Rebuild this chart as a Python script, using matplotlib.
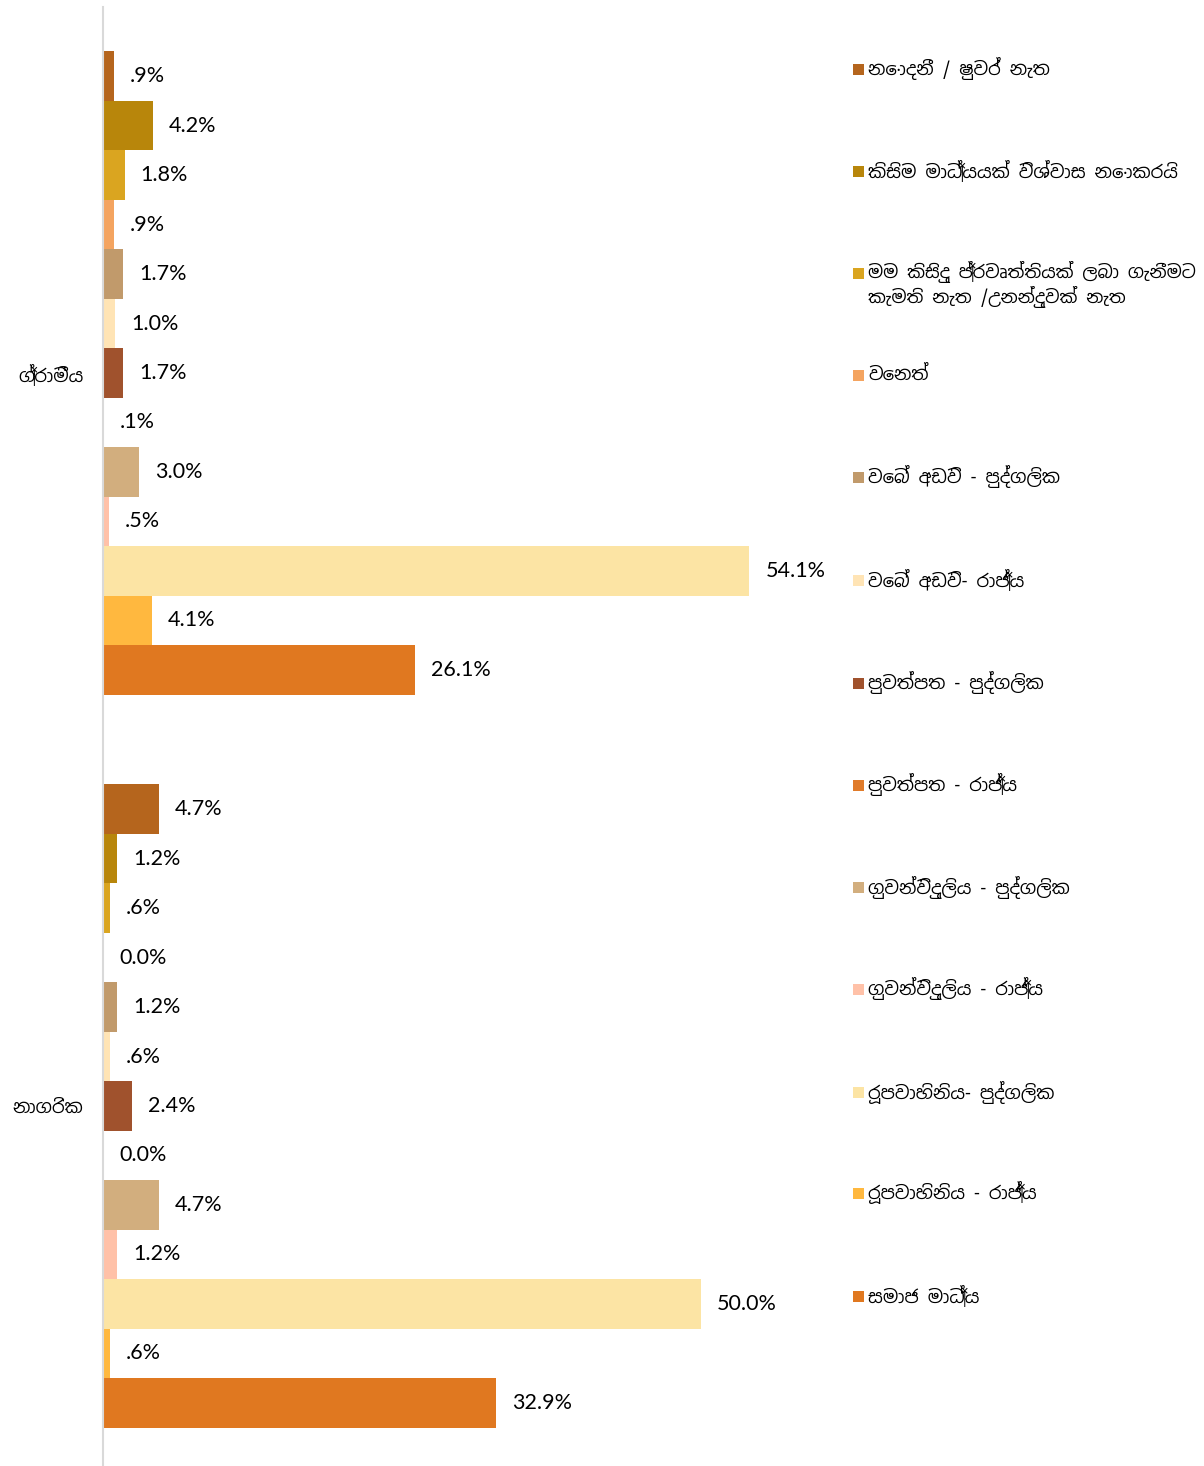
import matplotlib
matplotlib.use("Agg")
import matplotlib.pyplot as plt
from matplotlib import font_manager as fm
from matplotlib.patches import Rectangle

# Sinhala-capable font if one is around, otherwise fall back
sinhala = sorted({f.name for f in fm.fontManager.ttflist
                  if "sinhala" in f.name.lower() or "iskoola" in f.name.lower()})
fams = sinhala + ["Lato", "DejaVu Sans"]
plt.rcParams["font.family"] = fams

groups = ["ග්‍රාමීය", "නාගරික"]

series = [
    "නොදනී / ෂුවර් නැත",
    "කිසිම මාධ්‍යයක් විශ්වාස නොකරයි",
    "මම කිසිදු ප්‍රවෘත්තියක් ලබා ගැනීමට\nකැමති නැත /උනන්දුවක් නැත",
    "වෙනත්",
    "වෙබ් අඩවි - පුද්ගලික",
    "වෙබ් අඩවි- රාජ්‍ය",
    "පුවත්පත - පුද්ගලික",
    "පුවත්පත - රාජ්‍ය",
    "ගුවන්විදුලිය - පුද්ගලික",
    "ගුවන්විදුලිය - රාජ්‍ය",
    "රූපවාහිනිය- පුද්ගලික",
    "රූපවාහිනිය - රාජ්‍ය",
    "සමාජ මාධ්‍ය",
]

colors = ["#B5651D", "#B8860B", "#DAA520", "#F4A460", "#C19A6B", "#FFE4B5",
          "#A0522D", "#E07B2A", "#D2AE7E", "#FFC1A8", "#FCE4A4", "#FFB83F",
          "#E07820"]

rural = [0.9, 4.2, 1.8, 0.9, 1.7, 1.0, 1.7, 0.1, 3.0, 0.5, 54.1, 4.1, 26.1]
urban = [4.7, 1.2, 0.6, 0.0, 1.2, 0.6, 2.4, 0.0, 4.7, 1.2, 50.0, 0.6, 32.9]
rural_lbl = [".9%", "4.2%", "1.8%", ".9%", "1.7%", "1.0%", "1.7%", ".1%",
             "3.0%", ".5%", "54.1%", "4.1%", "26.1%"]
urban_lbl = ["4.7%", "1.2%", ".6%", "0.0%", "1.2%", ".6%", "2.4%", "0.0%",
             "4.7%", "1.2%", "50.0%", ".6%", "32.9%"]

W, H = 1204, 1466
fig = plt.figure(figsize=(W / 100, H / 100), dpi=100)
ax = fig.add_axes([103 / W, -6.5 / H, 717 / W, 1 + 0 / H])

n = len(series)
h = 0.0675
for gi, (vals, lbls) in enumerate([(rural, rural_lbl), (urban, urban_lbl)]):
    for i in range(n):
        y = gi + (i - (n - 1) / 2) * h
        ax.barh(y, vals[i], height=h, color=colors[i], linewidth=0)
        ax.annotate(lbls[i], (vals[i], y), xytext=(11.5, 0),
                    textcoords="offset points", va="center", ha="left",
                    fontsize=15.5, family=["Lato", "DejaVu Sans"])

ax.set_xlim(0, 60)
ax.set_ylim(1.5, -0.5)
ax.set_yticks([0, 1])
ax.set_yticklabels(groups, fontsize=13)
ax.tick_params(axis="y", length=0, pad=14)
ax.set_xticks([])
for s in ["top", "right", "bottom"]:
    ax.spines[s].set_visible(False)
ax.spines["left"].set_color("#D9D9D9")
ax.spines["left"].set_linewidth(1.5)

# legend, drawn by hand to keep Excel-like spacing
ys = [69, 171, 273, 375, 477, 580, 683, 785, 887, 989, 1092, 1193, 1296]
for lab, c, yp in zip(series, colors, ys):
    fig.add_artist(Rectangle((853 / W, 1 - (yp + 6) / H), 11 / W, 11 / H,
                             transform=fig.transFigure, color=c, lw=0))
    if "\n" in lab:
        fig.text(868 / W, 1 - (yp - 12) / H, lab, va="top", ha="left",
                 fontsize=12.8, linespacing=1.2)
    else:
        fig.text(868 / W, 1 - yp / H, lab, va="center", ha="left", fontsize=13)

fig.savefig("out.png", dpi=100)
